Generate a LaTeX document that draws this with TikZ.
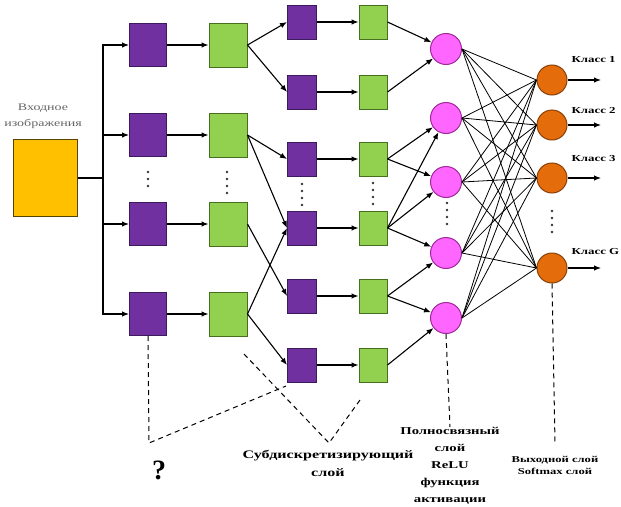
\documentclass[tikz,border=0pt]{standalone}
\usepackage{fontspec}
\setmainfont{Liberation Serif}
\newfontfamily\lblfont[FakeStretch=1.4]{Liberation Serif}
\usetikzlibrary{positioning, arrows.meta, calc}
\usepackage{xcolor}
\definecolor{inputfill}{HTML}{FFC000}
\definecolor{inputborder}{HTML}{5A4300}
\definecolor{convfill}{HTML}{7030A0}
\definecolor{convborder}{HTML}{3C1A5C}
\definecolor{poolfill}{HTML}{92D050}
\definecolor{poolborder}{HTML}{46701E}
\definecolor{relufill}{HTML}{FF66FF}
\definecolor{reluborder}{HTML}{A0289A}
\definecolor{softfill}{HTML}{E46C0A}
\definecolor{softborder}{HTML}{8A4006}
\definecolor{labelgray}{HTML}{666666}

\begin{document}
\begin{tikzpicture}[x=1pt, y=-1pt, line width=1.1pt, >={Latex[length=7pt,width=5.5pt]},
    bigconv/.style={draw=convborder, fill=convfill, line width=1pt,
          minimum width=37pt, minimum height=43pt, inner sep=0pt},
    bigpool/.style={draw=poolborder, fill=poolfill, line width=1pt,
          minimum width=38pt, minimum height=44pt, inner sep=0pt},
    smallconv/.style={bigconv, minimum width=29pt, minimum height=34pt},
    smallpool/.style={bigpool, minimum width=28pt, minimum height=34pt},
    relu/.style={circle, draw=reluborder, fill=relufill, line width=1pt,
          minimum size=31pt, inner sep=0pt},
    soft/.style={circle, draw=softborder, fill=softfill, line width=1pt,
          minimum size=30pt, inner sep=0pt},
    lbl/.style={font=\lblfont\bfseries\fontsize{10.5}{17}\selectfont, align=center, inner sep=0pt},
    note/.style={line width=1pt, dash pattern=on 5pt off 4pt}]
    \useasboundingbox (0,0) rectangle (621,506);

    % input image
    \node[draw=inputborder, fill=inputfill, line width=1pt, minimum width=64pt,
          minimum height=77pt, inner sep=0pt] (in) at (45,178) {};
    \node[font=\lblfont\fontsize{10}{16}\selectfont, text=labelgray, align=center,
          inner sep=0pt] (inlbl) at (43,116) {Входное\\изображения};
    \coordinate (bus) at (103,178);
    \draw (in) -- (bus);

    % first convolution and subsampling
    \foreach \i/\y in {1/45, 2/135, 3/224, 4/314} {
      \node[bigconv] (ca\i) at (148,\y) {};
      \node[bigpool] (pa\i) at (228,\y) {};
      \draw[->] (bus) |- (ca\i);
      \draw[->] (ca\i) -- (pa\i);
    }

    % second convolution and subsampling
    \foreach \i/\y in {1/22, 2/92, 3/159, 4/228, 5/296, 6/365} {
      \node[smallconv] (cb\i) at (302,\y) {};
      \node[smallpool] (pb\i) at (373,\y) {};
      \draw[->] (cb\i) -- (pb\i);
    }
    \foreach \a/\b in {1/1, 1/2, 2/3, 2/4, 3/5, 4/4, 4/6}
      \draw[->] (pa\a.east) -- (cb\b.west);

    % fully connected layer
    \foreach \i/\y in {1/49, 2/118, 3/182, 4/253, 5/318}
      \node[relu] (fc\i) at (446,\y) {};
    \foreach \a/\b in {1/1, 2/1, 3/2, 3/3, 4/2, 4/3, 4/4, 5/4, 5/5, 6/5}
      \draw[->] (pb\a.east) -- (fc\b);

    % output layer
    \foreach \i/\y/\ly/\t in {1/80/60/Класс 1, 2/125/110/Класс 2, 3/178/158/Класс 3, 4/268/251/Класс G} {
      \node[soft] (sm\i) at (552,\y) {};
      \coordinate (k\i) at (601,\y);
      \draw[->] (sm\i) -- (k\i);
      \node[lbl, font=\lblfont\bfseries\fontsize{9.2}{11}\selectfont, anchor=west]
            (cls\i) at (571,\ly) {\t};
    }
    \foreach \a in {1,...,5}
      \foreach \b in {1,...,4}
        \draw[line width=0.8pt] (fc\a.east) -- (sm\b.west);

    % dots
    \foreach \x/\y/\n in {148/172/3, 227/172/4, 302/184/4, 373/183/4, 447/203/4, 552/211/4}
      \foreach \k in {1,...,\n}
        \fill[black!80] (\x,\y+\k*7-7) circle (1.3pt);

    % notes
    \coordinate (q) at (149,443);
    \coordinate (qe) at (286,386);
    \draw[note] (ca4.south) -- (q) -- (qe);
    \node[font=\bfseries\fontsize{28}{28}\selectfont, inner sep=0pt] (qm) at (159,470) {?};

    \coordinate (v) at (329,443);
    \coordinate (va) at (244,354);
    \coordinate (vb) at (360,400);
    \draw[note] (va) -- (v) -- (vb);
    \node[lbl, font=\lblfont\bfseries\fontsize{11.5}{18}\selectfont] (sub) at (328,463) {Субдискретизирующий\\слой};

    \coordinate (fe) at (450,427);
    \draw[note] (fc5.south) -- (fe);
    \node[lbl, anchor=north] (fclbl) at (450,427) {Полносвязный\\слой\\ReLU\\функция\\активации};

    \coordinate (oe) at (555,443);
    \draw[note] (sm4.south) -- (oe);
    \node[lbl, font=\lblfont\bfseries\fontsize{9}{12}\selectfont] (smlbl) at (555,465) {Выходной слой\\Softmax слой};
  \end{tikzpicture}
\end{document}
